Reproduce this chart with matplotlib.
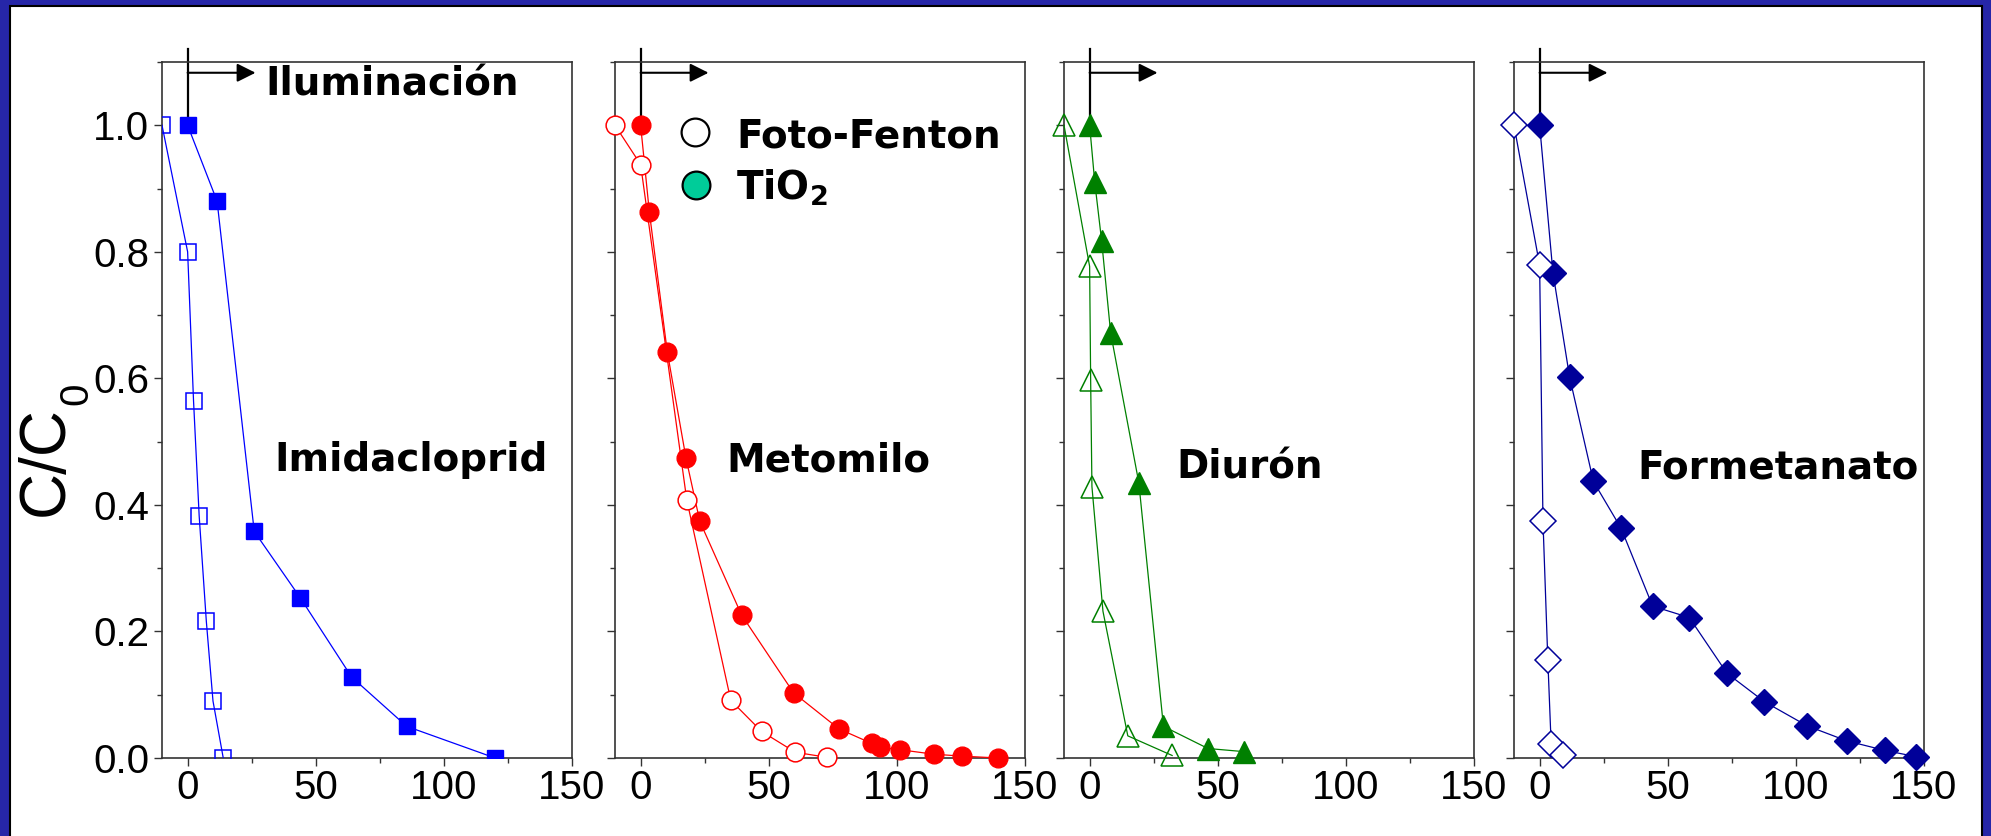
import matplotlib
matplotlib.use("Agg")
import matplotlib.pyplot as plt
from matplotlib.patches import Rectangle
from matplotlib.ticker import MultipleLocator

# ---------------- data ----------------
compounds = ["Imidacloprid", "Metomilo", "Diurón", "Formetanato"]

ff_imi_x = [-10, 0, 2.3, 4.5, 7.3, 9.9, 13.9]
ff_imi_y = [1.0, 0.80, 0.565, 0.383, 0.216, 0.09, 0.0]
ti_imi_x = [0, 11.5, 26, 44, 64, 85.5, 120]
ti_imi_y = [1.0, 0.88, 0.358, 0.253, 0.128, 0.05, 0.0]

ff_met_x = [-10, 0, 18, 35.2, 47.2, 60.4, 72.9]
ff_met_y = [1.0, 0.938, 0.408, 0.091, 0.042, 0.009, 0.001]
ti_met_x = [0, 3.4, 10.4, 17.7, 23.1, 39.4, 59.7, 77.4, 90.2, 93.6, 101.4, 114.4, 125.3, 139.6]
ti_met_y = [1.0, 0.863, 0.642, 0.474, 0.374, 0.226, 0.103, 0.046, 0.023, 0.017, 0.013, 0.006, 0.003, 0.0]

ff_diu_x = [-10, 0, 0.4, 0.9, 5.2, 14.9, 32.2]
ff_diu_y = [1.0, 0.777, 0.598, 0.429, 0.232, 0.035, 0.004]
ti_diu_x = [0, 2, 4.7, 8.2, 19.2, 28.8, 46.2, 60.4]
ti_diu_y = [1.0, 0.91, 0.817, 0.672, 0.435, 0.05, 0.015, 0.01]

ff_for_x = [-10, 0, 1.3, 3.2, 4.5, 9]
ff_for_y = [1.0, 0.779, 0.375, 0.155, 0.022, 0.004]
ti_for_x = [0, 5.2, 11.7, 21, 31.8, 44.1, 58.4, 73.1, 87.7, 104.3, 119.9, 134.7, 147]
ti_for_y = [1.0, 0.767, 0.602, 0.437, 0.363, 0.240, 0.222, 0.134, 0.089, 0.051, 0.027, 0.012, 0.002]

x_ticks = [0, 50, 100, 150]
y_ticks = [0.0, 0.2, 0.4, 0.6, 0.8, 1.0]
y_tick_labels = ["0.0", "0.2", "0.4", "0.6", "0.8", "1.0"]
legend_labels = ["Foto-Fenton", r"TiO$_\mathbf{2}$"]
illum_label = "Iluminación"
y_label_main = "C/C"
y_label_sub = "0"

# ---------------- style ----------------
plt.rcParams["mathtext.fontset"] = "dejavusans"
W, H = 1991, 836
fig = plt.figure(figsize=(W / 100, H / 100), dpi=100)
fig.patch.set_facecolor("#2626A8")
fig.add_artist(Rectangle((10 / W, -0.01), (1982 - 10) / W, (836 - 6) / H + 0.01,
                         transform=fig.transFigure, facecolor="white",
                         edgecolor="black", lw=1.5, zorder=0))

panels = [
    dict(ff=(ff_imi_x, ff_imi_y), ti=(ti_imi_x, ti_imi_y), color="#0000FF",
         marker="s", ms=12, clip=True, name_xy=(33.9, 0.453), ffc="none"),
    dict(ff=(ff_met_x, ff_met_y), ti=(ti_met_x, ti_met_y), color="#FF0000",
         marker="o", ms=13.5, clip=False, name_xy=(33.5, 0.453), ffc="white"),
    dict(ff=(ff_diu_x, ff_diu_y), ti=(ti_diu_x, ti_diu_y), color="#008000",
         marker="^", ms=16.5, clip=False, name_xy=(33.9, 0.441), ffc="none"),
    dict(ff=(ff_for_x, ff_for_y), ti=(ti_for_x, ti_for_y), color="#000099",
         marker="D", ms=13, clip=False, name_xy=(38.2, 0.441), ffc="white"),
]

lefts_px = [162, 615, 1064, 1514]
ax_w = 410 / W
ax_b = 78 / H
ax_h = 696 / H
bold = dict(fontsize=28, fontweight="bold", family="DejaVu Sans")

for i, (p, name) in enumerate(zip(panels, compounds)):
    ax = fig.add_axes([lefts_px[i] / W, ax_b, ax_w, ax_h])
    ax.set_facecolor("white")
    ax.set_xlim(-10, 150)
    ax.set_ylim(0, 1.1)
    ax.set_xticks(x_ticks)
    ax.set_yticks(y_ticks)
    ax.xaxis.set_minor_locator(MultipleLocator(25))
    ax.yaxis.set_minor_locator(MultipleLocator(0.1))
    ax.tick_params(which="both", direction="out", top=False, right=False,
                   color="#333333", width=1.0)
    ax.tick_params(which="major", length=6)
    ax.tick_params(which="minor", length=3.5)
    ax.tick_params(axis="x", labelsize=29, pad=2)
    ax.tick_params(axis="y", labelsize=29, pad=3)
    if i == 0:
        ax.set_yticklabels(y_tick_labels)
    else:
        ax.tick_params(axis="y", labelleft=False)
    for lab in ax.get_xticklabels() + ax.get_yticklabels():
        lab.set_family("Liberation Sans")
    for s in ax.spines.values():
        s.set_color("#333333")
        s.set_linewidth(1.2)

    c = p["color"]
    # TiO2 (filled)
    ax.plot(p["ti"][0], p["ti"][1], color=c, lw=0.9, marker=p["marker"],
            ms=p["ms"], mfc=c, mec=c, mew=1.0, clip_on=p["clip"], zorder=3)
    # Foto-Fenton (open)
    ax.plot(p["ff"][0], p["ff"][1], color=c, lw=0.9, marker=p["marker"],
            ms=p["ms"], mfc=p["ffc"], mec=c, mew=1.1, clip_on=p["clip"], zorder=4)

    # illumination marker
    ax.plot([0, 0], [1.0, 1.12], color="black", lw=1.6, clip_on=False, zorder=2)
    ax.annotate("", xy=(26.5, 1.083), xytext=(0, 1.083),
                arrowprops=dict(arrowstyle="-|>,head_length=0.4,head_width=0.2",
                                color="black", lw=1.5, mutation_scale=28,
                                shrinkA=0, shrinkB=0),
                annotation_clip=False)

    ax.text(p["name_xy"][0], p["name_xy"][1], name, ha="left", va="baseline", **bold)

    if i == 0:
        ax.text(30.4, 1.047, illum_label, ha="left", va="baseline", **bold)
    if i == 1:
        ax.plot([21.4], [0.989], "o", ms=20, mfc="white", mec="black", mew=1.6,
                clip_on=False, zorder=5)
        ax.plot([21.6], [0.905], "o", ms=20, mfc="#00CC99", mec="black", mew=1.6,
                clip_on=False, zorder=5)
        ax.text(37.4, 0.965, legend_labels[0], ha="left", va="baseline", **bold)
        ax.text(37.4, 0.883, legend_labels[1], ha="left", va="baseline", **bold)

# y label C/C0
fig.text(63 / W, 1 - 461 / H, y_label_main, rotation=90, rotation_mode="anchor",
         ha="center", va="baseline", fontsize=46, family="Liberation Sans")
fig.text(87 / W, 1 - 394 / H, y_label_sub, rotation=90, rotation_mode="anchor",
         ha="center", va="baseline", fontsize=29, family="Liberation Sans")

fig.savefig("out.png", dpi=100, facecolor=fig.get_facecolor())
